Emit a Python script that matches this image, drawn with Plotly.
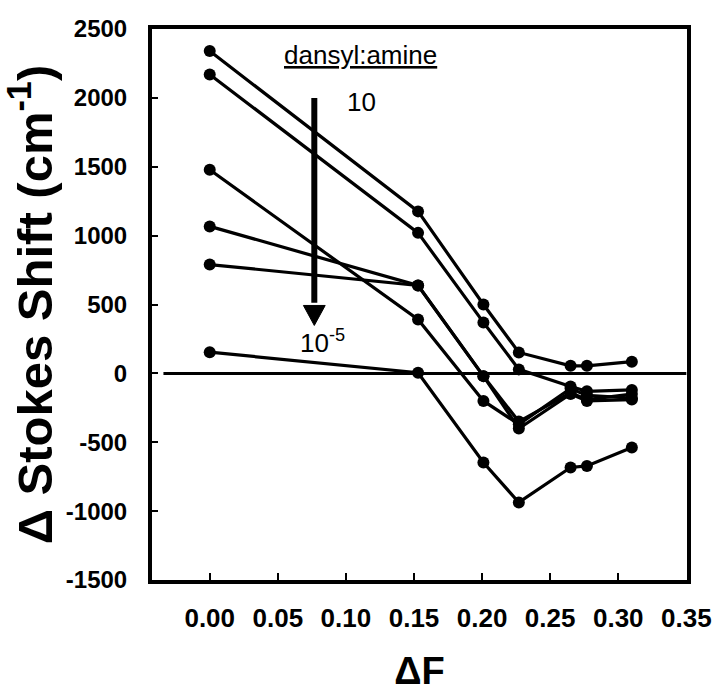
import plotly.graph_objects as go

# Data
delta_f = [0.0, 0.153, 0.201, 0.227, 0.265, 0.277, 0.310]
series_1 = [2340, 1176, 500, 152, 55, 55, 85]
series_2 = [2170, 1020, 370, 29, -95, -130, -120]
series_3 = [1478, 391, -200, -370, -110, -160, -180]
series_4 = [1067, 638, -20, -350, -140, -190, -150]
series_5 = [790, 638, -20, -400, -150, -200, -190]
series_6 = [154, 5, -647, -937, -683, -672, -538]
all_series = [series_1, series_2, series_3, series_4, series_5, series_6]

x_ticks = [0.00, 0.05, 0.10, 0.15, 0.20, 0.25, 0.30, 0.35]
y_ticks = [-1500, -1000, -500, 0, 500, 1000, 1500, 2000, 2500]

# annotation positions (data coordinates)
ARROW_X = 0.0768
ARROW_TOP = 2000
ARROW_BASE = 493
ARROW_TIP = 348
ARROW_HALF = 0.008

fig = go.Figure()
for s in all_series:
    fig.add_trace(go.Scatter(
        x=delta_f, y=s, mode="lines+markers",
        line=dict(color="black", width=3.2),
        marker=dict(color="black", size=12),
        showlegend=False,
    ))

fam = "Liberation Sans, Arial"

fig.update_layout(
    width=724, height=698,
    margin=dict(l=152, r=34, t=29, b=117),
    paper_bgcolor="white", plot_bgcolor="white",
    xaxis=dict(
        range=[-0.0424, 0.3505],
        tickvals=x_ticks, ticktext=[f"<b>{v:.2f}</b>" for v in x_ticks],
        ticks="inside", ticklen=7, tickwidth=2, tickcolor="black",
        showline=True, linecolor="black", linewidth=4, mirror=True,
        showgrid=False, zeroline=False,
        tickfont=dict(family=fam, size=26, color="black"),
        ticklabelstandoff=12,
        title=dict(text="<b>ΔF</b>", font=dict(family=fam, size=38, color="black"), standoff=26),
    ),
    yaxis=dict(
        range=[-1500, 2500],
        tickvals=y_ticks, ticktext=[f"<b>{v}</b>" for v in y_ticks],
        ticks="inside", ticklen=6, tickwidth=2, tickcolor="black",
        showline=True, linecolor="black", linewidth=4, mirror=True,
        showgrid=False, zeroline=False,
        tickfont=dict(family=fam, size=24, color="black"),
        ticklabelstandoff=16,
        title=dict(text="<b>Δ Stokes Shift (cm<sup>-1</sup>)</b>", font=dict(family=fam, size=49, color="black"), standoff=4),
    ),
)

# zero reference line
fig.add_shape(type="line", x0=-0.034, x1=0.35, y0=0, y1=0, line=dict(color="black", width=3))

# arrow
fig.add_shape(type="line", x0=ARROW_X, x1=ARROW_X, y0=ARROW_TOP, y1=ARROW_BASE + 20,
              line=dict(color="black", width=6))
fig.add_shape(type="path",
              path=f"M {ARROW_X - ARROW_HALF} {ARROW_BASE} L {ARROW_X + ARROW_HALF} {ARROW_BASE} L {ARROW_X} {ARROW_TIP} Z",
              fillcolor="black", line=dict(color="black", width=1))

ann_font = dict(family=fam, size=26, color="black")
fig.add_annotation(x=0.111, y=2312, text="<u>dansyl:amine</u>", showarrow=False, font=ann_font)
fig.add_annotation(x=0.1112, y=1971, text="10", showarrow=False, font=ann_font)
fig.add_annotation(x=0.0827, y=232, text="10<sup>-5</sup>", showarrow=False, font=ann_font)

fig.write_html("out.html")
